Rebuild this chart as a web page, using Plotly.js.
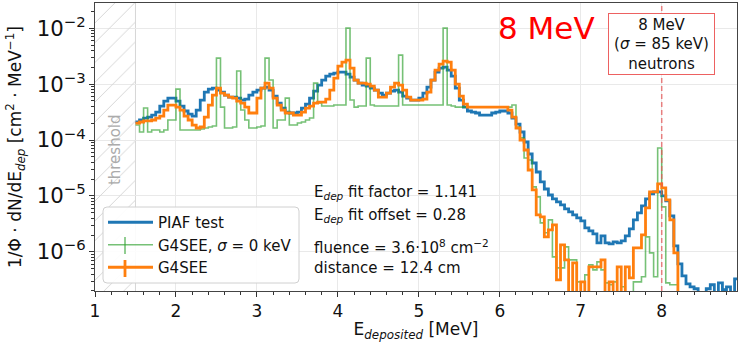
<!DOCTYPE html>
<html><head><meta charset="utf-8">
<script src="https://cdn.plot.ly/plotly-3.0.1.min.js"></script>
<style>html,body{margin:0;padding:0;background:#fff}#chart{width:739px;height:342px}</style>
</head><body><div id="chart"></div>
<script>
// Histogram bins: left edge of first bin and bin width (MeV)
const binStart = 1.5;
const binWidth = 0.05;

// PIAF test (measured)
const piafTest = [
  2.10e-4, 2.28e-4, 2.47e-4, 2.57e-4, 2.79e-4, 3.16e-4, 4.05e-4, 4.97e-4, 5.62e-4, 5.62e-4,
  4.97e-4, 4.05e-4, 3.30e-4, 2.91e-4, 2.68e-4, 3.43e-4, 5.18e-4, 7.20e-4, 8.14e-4, 8.48e-4,
  7.81e-4, 7.20e-4, 6.36e-4, 5.86e-4, 5.86e-4, 5.62e-4, 5.18e-4, 5.40e-4, 6.36e-4, 7.20e-4,
  7.81e-4, 8.48e-4, 8.84e-4, 7.81e-4, 6.11e-4, 4.58e-4, 3.73e-4, 3.16e-4, 3.04e-4, 3.04e-4,
  3.16e-4, 3.73e-4, 4.40e-4, 5.62e-4, 7.50e-4, 9.60e-4, 1.18e-3, 1.39e-3, 1.51e-3, 1.57e-3,
  1.64e-3, 1.64e-3, 1.51e-3, 1.33e-3, 1.18e-3, 1.04e-3, 9.60e-4, 9.21e-4, 8.48e-4, 7.81e-4,
  6.91e-4, 6.36e-4, 6.91e-4, 7.50e-4, 7.81e-4, 7.20e-4, 6.11e-4, 5.62e-4, 5.18e-4, 5.18e-4,
  5.62e-4, 6.91e-4, 8.84e-4, 1.18e-3, 1.64e-3, 1.93e-3, 2.01e-3, 1.78e-3, 1.39e-3, 8.48e-4,
  5.18e-4, 3.88e-4, 3.30e-4, 3.16e-4, 3.04e-4, 2.79e-4, 2.79e-4, 2.79e-4, 3.04e-4, 3.16e-4,
  3.30e-4, 3.30e-4, 3.04e-4, 2.47e-4, 1.93e-4, 1.39e-4, 9.21e-5, 5.62e-5, 3.88e-5, 2.68e-5,
  1.78e-5, 1.33e-5, 1.04e-5, 8.84e-6, 7.81e-6, 6.91e-6, 5.86e-6, 5.18e-6, 4.58e-6, 4.05e-6,
  3.58e-6, 2.68e-6, 2.37e-6, 2.10e-6, 1.45e-6, 1.93e-6, 1.45e-6, 1.39e-6, 1.51e-6, 1.45e-6,
  1.57e-6, 1.93e-6, 2.58e-6, 3.73e-6, 4.97e-6, 6.63e-6, 8.84e-6, 1.09e-5, 1.18e-5, 1.18e-5,
  1.00e-5, 8.14e-6, 4.40e-6, 1.28e-6, 6.11e-7, 3.73e-7, 2.68e-7, 2.37e-7, 2.19e-7, 0,
  0, 2.19e-7, 2.58e-7, 0, 2.79e-7, 2.10e-7, 2.37e-7, 0, 3.30e-7
];

// G4SEE, sigma = 0 keV
const g4seeSigma0 = [
  1.85e-4, 1.39e-4, 3.73e-4, 1.39e-4, 1.51e-4, 1.51e-4, 1.39e-4, 1.51e-4, 2.28e-4, 2.28e-4,
  8.14e-4, 1.51e-4, 1.51e-4, 1.51e-4, 1.51e-4, 1.51e-4, 1.57e-4, 1.64e-4, 1.71e-4, 1.78e-4,
  2.91e-3, 3.88e-4, 1.64e-4, 1.64e-4, 1.71e-4, 1.71e-3, 3.43e-4, 2.28e-4, 1.64e-4, 1.64e-4,
  1.71e-4, 1.78e-4, 2.91e-3, 1.18e-3, 1.64e-4, 2.28e-4, 2.28e-4, 5.62e-4, 1.85e-4, 1.85e-4,
  2.01e-4, 2.10e-4, 2.28e-4, 2.47e-4, 1.04e-3, 4.58e-4, 4.05e-4, 4.05e-4, 4.05e-4, 4.22e-4,
  4.22e-4, 4.22e-4, 1.00e-2, 5.18e-4, 3.88e-4, 4.05e-4, 4.05e-4, 2.91e-3, 4.22e-4, 4.05e-4,
  4.05e-4, 4.05e-4, 4.05e-4, 4.05e-4, 4.05e-4, 3.30e-3, 4.22e-4, 4.22e-4, 4.22e-4, 4.22e-4,
  4.22e-4, 4.22e-4, 4.22e-4, 4.22e-4, 4.22e-4, 4.22e-4, 1.00e-2, 4.22e-4, 4.05e-4, 3.88e-4,
  3.88e-4, 3.88e-4, 3.88e-4, 3.88e-4, 3.88e-4, 3.88e-4, 3.88e-4, 3.88e-4, 3.88e-4, 3.88e-4,
  3.88e-4, 3.88e-4, 3.88e-4, 4.22e-4, 1.71e-4, 1.09e-4, 4.77e-5, 4.40e-5, 1.45e-5, 9.60e-6,
  3.30e-6, 2.19e-6, 3.73e-6, 8.14e-7, 5.18e-7, 5.18e-7, 1.23e-6, 7.20e-7, 7.20e-7, 2.91e-7,
  0, 3.88e-7, 5.86e-7, 4.77e-7, 6.63e-7, 4.77e-7, 2.79e-7, 2.58e-7, 2.91e-7, 0,
  2.37e-7, 0, 0, 2.91e-7, 2.91e-7, 3.58e-7, 1.85e-6, 9.60e-7, 3.58e-7, 7.20e-5,
  6.36e-6, 2.79e-7, 2.58e-7, 2.58e-7, 0, 0, 0, 0, 0, 0,
  0, 0, 0, 0, 0, 0, 0, 0, 0
];

// G4SEE (with energy resolution)
const g4see = [
  2.01e-4, 2.10e-4, 2.19e-4, 2.19e-4, 2.28e-4, 2.47e-4, 2.68e-4, 3.43e-4, 4.22e-4, 4.22e-4,
  3.88e-4, 3.43e-4, 2.68e-4, 2.28e-4, 1.85e-4, 1.64e-4, 1.71e-4, 2.57e-4, 4.22e-4, 6.36e-4,
  8.48e-4, 6.91e-4, 6.36e-4, 5.86e-4, 5.62e-4, 4.97e-4, 4.58e-4, 3.88e-4, 3.04e-4, 3.04e-4,
  5.62e-4, 8.48e-4, 1.04e-3, 8.48e-4, 5.62e-4, 4.22e-4, 3.43e-4, 3.04e-4, 3.04e-4, 2.79e-4,
  2.79e-4, 3.16e-4, 3.73e-4, 4.05e-4, 4.58e-4, 4.77e-4, 4.77e-4, 5.40e-4, 7.81e-4, 1.28e-3,
  2.10e-3, 2.47e-3, 2.68e-3, 1.93e-3, 1.18e-3, 1.04e-3, 1.04e-3, 1.00e-3, 9.21e-4, 7.81e-4,
  5.86e-4, 5.86e-4, 6.91e-4, 8.84e-4, 1.04e-3, 9.60e-4, 7.81e-4, 5.86e-4, 5.18e-4, 5.18e-4,
  5.18e-4, 5.40e-4, 7.20e-4, 1.18e-3, 1.78e-3, 2.28e-3, 2.58e-3, 2.47e-3, 1.78e-3, 1.00e-3,
  6.11e-4, 4.40e-4, 3.88e-4, 3.88e-4, 3.88e-4, 3.88e-4, 3.88e-4, 3.88e-4, 3.88e-4, 3.88e-4,
  3.88e-4, 3.88e-4, 3.43e-4, 2.57e-4, 1.64e-4, 1.00e-4, 6.63e-5, 2.91e-5, 1.28e-5, 4.58e-6,
  4.22e-6, 1.85e-6, 2.47e-6, 3.04e-6, 3.16e-7, 1.33e-6, 7.20e-7, 0, 6.36e-7, 0,
  2.91e-7, 0, 5.40e-7, 5.40e-7, 5.40e-7, 7.20e-7, 0, 2.91e-7, 0, 5.40e-7,
  0, 5.40e-7, 3.43e-7, 1.18e-6, 1.18e-6, 2.01e-6, 6.11e-6, 1.18e-5, 1.18e-5, 1.64e-5,
  1.39e-5, 8.48e-6, 3.73e-6, 9.60e-7, 0, 0, 0, 0, 0, 0,
  0, 0, 0, 0, 0, 0, 0, 0, 0
];

const xTickVals = [1, 2, 3, 4, 5, 6, 7, 8];
const thresholdE = 1.5;
const beamE = 8;

const COL_BLUE = '#1f77b4';
const COL_GREEN = 'rgba(44,160,44,0.65)';
const COL_ORANGE = '#ff7f0e';

function binEdges(n) {
  const e = [];
  for (let i = 0; i <= n; i++) e.push(+(binStart + i * binWidth).toFixed(4));
  return e;
}
function stepValues(v) {
  // empty bins drop below the log axis
  const y = v.map(a => (a > 0 ? a : 1e-12));
  y.push(y[y.length - 1]);
  return y;
}

// plot-area pixel -> paper helpers (plot area: x 95..737, y 3..291)
const PX = px => (px - 95) / 642;
const PY = py => (291 - py) / 288;

const traces = [
  {
    x: [1, thresholdE, thresholdE, 1, 1], y: [1e-9, 1e-9, 1, 1, 1e-9],
    type: 'scatter', mode: 'lines', fill: 'toself',
    fillcolor: 'rgba(255,255,255,0)',
    fillpattern: { shape: '/', fgcolor: '#d6d6d6', bgcolor: 'rgba(255,255,255,0)', size: 14, solidity: 0.07 },
    line: { width: 0 }, showlegend: false, hoverinfo: 'skip'
  },
  {
    name: 'PIAF test', x: binEdges(piafTest.length), y: stepValues(piafTest),
    type: 'scatter', mode: 'lines', line: { shape: 'hv', color: COL_BLUE, width: 2.8 }
  },
  {
    name: 'G4SEE, <i>σ</i> = 0 keV', x: binEdges(g4seeSigma0.length), y: stepValues(g4seeSigma0),
    type: 'scatter', mode: 'lines', line: { shape: 'hv', color: COL_GREEN, width: 1.6 }
  },
  {
    name: 'G4SEE', x: binEdges(g4see.length), y: stepValues(g4see),
    type: 'scatter', mode: 'lines', line: { shape: 'hv', color: COL_ORANGE, width: 2.8 }
  }
];

const axisCommon = {
  ticks: 'outside', ticklen: 5, tickwidth: 1, tickcolor: '#333',
  showline: true, linecolor: '#444', linewidth: 1, mirror: true,
  showgrid: true, gridcolor: '#e9e9e9', gridwidth: 1, zeroline: false,
  tickfont: { family: 'DejaVu Sans', size: 17, color: '#111' }
};

// rounded legend frame
const r = 4;
const legendFramePath =
  `M ${PX(103 + r)} ${PY(207)} L ${PX(299 - r)} ${PY(207)} Q ${PX(299)} ${PY(207)} ${PX(299)} ${PY(207 + r)} ` +
  `L ${PX(299)} ${PY(283 - r)} Q ${PX(299)} ${PY(283)} ${PX(299 - r)} ${PY(283)} ` +
  `L ${PX(103 + r)} ${PY(283)} Q ${PX(103)} ${PY(283)} ${PX(103)} ${PY(283 - r)} ` +
  `L ${PX(103)} ${PY(207 + r)} Q ${PX(103)} ${PY(207)} ${PX(103 + r)} ${PY(207)} Z`;

const layout = {
  width: 739, height: 342,
  margin: { l: 95, r: 2, t: 3, b: 51 },
  paper_bgcolor: 'white', plot_bgcolor: 'white',
  font: { family: 'DejaVu Sans', size: 15, color: '#111' },
  xaxis: Object.assign({}, axisCommon, {
    range: [1, 8.93], tickvals: xTickVals, ticktext: xTickVals.map(String),
    title: { text: 'E<sub><i>deposited</i></sub> [MeV]', font: { size: 17 }, standoff: 6 },
    minor: { dtick: 0.2, ticks: 'outside', ticklen: 3, tickcolor: '#333', showgrid: false }
  }),
  yaxis: Object.assign({}, axisCommon, {
    type: 'log', range: [-6.7, -1.55], dtick: 1, exponentformat: 'power',
    title: { text: '1/Φ · dN/dE<sub><i>dep</i></sub> [cm<sup>2</sup> · MeV<sup>−1</sup>]', font: { size: 17 }, standoff: 10 },
    minor: { dtick: 'D1', ticks: 'outside', ticklen: 3, tickcolor: '#333', showgrid: false }
  }),
  legend: {
    x: PX(103), y: PY(206), xanchor: 'left', yanchor: 'top',
    bgcolor: 'rgba(0,0,0,0)', borderwidth: 0, itemwidth: 45,
    font: { size: 15 }
  },
  shapes: [
    { type: 'line', xref: 'x', yref: 'paper', x0: thresholdE, x1: thresholdE, y0: 0, y1: 1,
      line: { color: '#d6d6d6', width: 1 }, layer: 'below' },
    { type: 'line', xref: 'x', yref: 'paper', x0: beamE, x1: beamE, y0: 0, y1: 1,
      line: { color: 'rgba(228,90,90,0.75)', width: 1.5, dash: '5px,3px' }, layer: 'above' },
    { type: 'path', xref: 'paper', yref: 'paper', path: legendFramePath,
      fillcolor: 'rgba(255,255,255,0.9)', line: { color: '#d0d0d0', width: 1 }, layer: 'above' },
    // error-bar marks of the simulated series in the legend
    { type: 'line', xref: 'paper', yref: 'paper', x0: PX(125), x1: PX(125), y0: PY(237), y1: PY(254),
      line: { color: COL_GREEN, width: 1.6 }, layer: 'above' },
    { type: 'line', xref: 'paper', yref: 'paper', x0: PX(125), x1: PX(125), y0: PY(260), y1: PY(277),
      line: { color: COL_ORANGE, width: 2.8 }, layer: 'above' }
  ],
  annotations: [
    { text: 'threshold', xref: 'x', yref: 'paper', x: 1.25, y: 0.49, textangle: -90,
      showarrow: false, font: { size: 15, color: '#ababab' } },
    { text: '8 MeV', xref: 'paper', yref: 'paper', x: PX(546), y: PY(28), xanchor: 'center', yanchor: 'middle',
      showarrow: false, font: { size: 31, color: 'red' } },
    { text: '8 MeV<br>(<i>σ</i> = 85 keV)<br>neutrons', xref: 'x', yref: 'paper', x: beamE, y: PY(44),
      xanchor: 'center', yanchor: 'middle', width: 101, height: 56,
      showarrow: false, font: { size: 15, color: '#111' }, bgcolor: 'white',
      bordercolor: 'rgba(235,80,80,0.9)', borderwidth: 1, borderpad: 2 },
    { text: 'E<sub><i>dep</i></sub> fit factor = 1.141', xref: 'paper', yref: 'paper', x: PX(312), y: PY(192),
      xanchor: 'left', yanchor: 'middle', showarrow: false, font: { size: 15 } },
    { text: 'E<sub><i>dep</i></sub> fit offset = 0.28', xref: 'paper', yref: 'paper', x: PX(312), y: PY(216),
      xanchor: 'left', yanchor: 'middle', showarrow: false, font: { size: 15 } },
    { text: 'fluence = 3.6·10<sup>8</sup> cm<sup>−2</sup>', xref: 'paper', yref: 'paper', x: PX(312), y: PY(247),
      xanchor: 'left', yanchor: 'middle', showarrow: false, font: { size: 15 } },
    { text: 'distance = 12.4 cm', xref: 'paper', yref: 'paper', x: PX(312), y: PY(268),
      xanchor: 'left', yanchor: 'middle', showarrow: false, font: { size: 15 } }
  ]
};

Plotly.newPlot('chart', traces, layout, { staticPlot: true, displayModeBar: false });
</script>
</body></html>
